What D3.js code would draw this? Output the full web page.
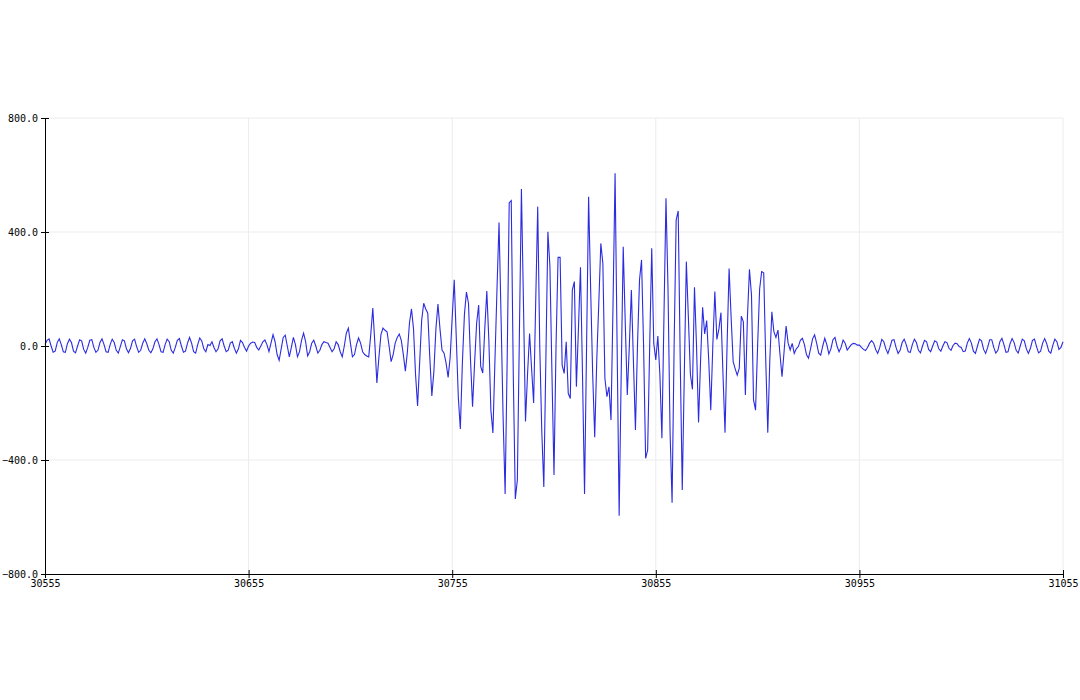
<!DOCTYPE html>
<html>
<head>
<meta charset="utf-8">
<script src="https://cdn.jsdelivr.net/npm/d3@7"></script>
<style>
  html, body { margin: 0; padding: 0; background: #ffffff; }
  svg text { font-family: "DejaVu Sans Mono", "Liberation Mono", monospace; font-size: 10px; fill: #000; }
</style>
</head>
<body>
<svg id="chart" width="1080" height="700"></svg>
<script>
// ---- data ----
const xStart = 30555;
const xEnd = 31055;
const xTicks = [30555, 30655, 30755, 30855, 30955, 31055];
const yTicks = [-800, -400, 0, 400, 800];
const yDomain = [-800, 800];
const signal = [
  5, 20, 25, 0, -22, -18, 12, 25, 5, -20,
  -22, 8, 24, 12, -18, -24, 0, 22, 18, -12,
  -25, -5, 20, 22, -5, -22, -15, 12, 25, 5,
  -20, -22, 5, 24, 12, -15, -25, -2, 22, 18,
  -10, -24, -8, 18, 24, -2, -22, -15, 10, 25,
  8, -15, -24, -10, 15, 25, 5, -20, -22, 5,
  24, 15, -15, -25, -5, 20, 26, 0, -22, -18,
  10, 30, 10, -20, -25, 5, 28, 18, -10, -20,
  5, 2, 15, -5, -20, -10, 18, 25, 0, -20,
  -15, 10, 15, -8, -25, -10, 20, 12, -5, -18,
  0, 10, 14, 12, -5, -14, 0, 15, 21, 5,
  -20, 10, 40, 15, -30, -50, -10, 30, 38, 0,
  -38, -5, 30, 5, -38, -20, 20, 45, 15, -35,
  -20, 10, 20, 0, -25, -15, 5, 15, 12, 10,
  -5, -20, -10, 15, 5, -20, -38, 0, 45, 63,
  10, -38, -30, 5, 28, 10, -20, -30, -35, -38,
  40, 133, 10, -130, -40, 40, 63, 55, 50, 0,
  -55, -30, 10, 30, 42, 20, -30, -88, -20, 80,
  130, 60, -100, -210, -60, 90, 150, 130, 115, -40,
  -175, -90, 60, 147, 60, -14, -25, -60, -110, -40,
  100, 232, 30, -180, -291, -60, 110, 189, 150, -50,
  -213, -60, 80, 144, -72, -95, 60, 193, 20, -225,
  -305, -50, 200, 433, 100, -250, -519, -50, 503, 510,
  -100, -537, -470, 40, 551, 150, -265, -100, 44, -80,
  -200, 150, 489, 0, -300, -495, -50, 401, 278, -100,
  -453, 0, 311, 311, -67, -96, 15, -166, -184, 196,
  226, -143, 60, 276, -100, -519, 0, 524, 200, -100,
  -320, -50, 150, 360, 290, -113, -178, -143, -260, 150,
  606, 0, -596, -100, 348, 80, -172, 0, 196, -50,
  -295, 0, 232, 302, 0, -394, -365, 0, 343, 9,
  -49, 35, -100, -324, 100, 518, 200, -300, -550, 0,
  442, 474, -50, -505, -100, 296, 100, -100, -152, 206,
  0, -268, -50, 136, 42, 89, -50, -225, 0, 191,
  23, 60, 117, -100, -304, 0, 272, 100, -55, -80,
  -102, -78, 105, 85, -172, 100, 269, 179, -189, -225,
  0, 200, 261, 257, -50, -304, -50, 120, 50, 30,
  56, -30, -108, -20, 70, 10, -14, 9, -26, -10,
  -2, 20, 27, 5, -30, -43, -10, 25, 39, 10,
  -25, -32, 0, 27, 5, -28, -10, 22, 30, 0,
  -20, -5, 21, 10, -14, -5, 5, 9, 8, 3,
  3, -5, -12, -16, -5, 10, 19, 10, -12, -26,
  -5, 23, 15, -10, -26, -5, 20, 22, -5, -26,
  -15, 12, 24, 5, -20, -22, 5, 24, 12, -15,
  -24, 0, 20, 15, -12, -20, 0, 18, 14, -10,
  -18, 0, 15, 12, -8, -15, 2, 10, 8, -2,
  -5, -20, -18, 10, 26, 10, -18, -26, 0, 24,
  18, -12, -26, -5, 22, 22, -5, -25, -15, 15,
  27, 5, -22, -20, 8, 26, 12, -15, -25, 0,
  24, 18, -10, -26, -8, 20, 24, -2, -24, -18,
  10, 26, 8, -18, -25, 2, 24, 15, -12, -5,
  15
];

// ---- layout ----
const margin = { left: 45, top: 118, right: 17, bottom: 126 };
const W = 1080, H = 700;
const iw = W - margin.left - margin.right;
const ih = H - margin.top - margin.bottom;

const svg = d3.select("#chart");
const g = svg.append("g").attr("transform", `translate(${margin.left},${margin.top})`);

const x = d3.scaleLinear().domain([xStart, xEnd]).range([0, iw]);
const y = d3.scaleLinear().domain(yDomain).range([ih, 0]);

// grid
g.append("g").selectAll("line.vg").data(xTicks.slice(1)).join("line")
  .attr("x1", d => x(d)).attr("x2", d => x(d)).attr("y1", 0).attr("y2", ih)
  .attr("stroke", "#ececec").attr("stroke-width", 1);
g.append("g").selectAll("line.hg").data(yTicks.slice(1)).join("line")
  .attr("x1", 0).attr("x2", iw).attr("y1", d => y(d)).attr("y2", d => y(d))
  .attr("stroke", "#ececec").attr("stroke-width", 1);

// line
const pts = signal.map((v, i) => [xStart + i, v]);
g.append("path")
  .datum(pts)
  .attr("fill", "none")
  .attr("stroke", "#2b2be0")
  .attr("stroke-width", 1.1)
  .attr("stroke-linejoin", "miter")
  .attr("d", d3.line().x(d => x(d[0])).y(d => y(d[1])));

// axes
const yAxis = d3.axisLeft(y).tickValues(yTicks).tickSize(4).tickFormat(d3.format(".1f"));
const ya = g.append("g").call(yAxis);
ya.select(".domain").attr("stroke", "#000");
ya.selectAll(".tick line").attr("x1", 4).attr("x2", -4).attr("stroke", "#000");
ya.selectAll(".tick text").attr("x", -7).attr("dy", "0.32em").style("font-family", "DejaVu Sans Mono").style("font-size", "10px");

const xAxis = d3.axisBottom(x).tickValues(xTicks).tickSize(4).tickFormat(d3.format("d"));
const xa = g.append("g").attr("transform", `translate(0,${ih})`).call(xAxis);
xa.select(".domain").attr("stroke", "#000");
xa.selectAll(".tick line").attr("y1", -4).attr("y2", 4).attr("stroke", "#000");
xa.selectAll(".tick text").attr("y", 6).attr("dy", "0.71em").style("font-family", "DejaVu Sans Mono").style("font-size", "10px");
</script>
</body>
</html>
